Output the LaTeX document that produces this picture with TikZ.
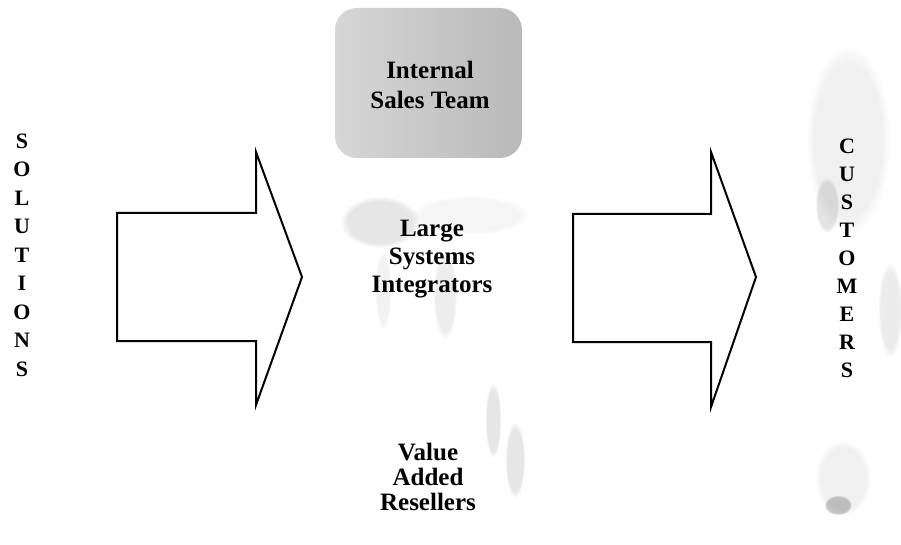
\documentclass[tikz,border=0pt]{standalone}
\usepackage{fontspec}
\setmainfont{Liberation Serif}
\usetikzlibrary{fadings}
\tikzset{
  blockarrow/.style={draw=black,line width=2pt,line join=miter,fill=white},
  letter/.style={font=\fontsize{22}{22}\selectfont\bfseries,inner sep=0pt},
  channel/.style={align=center,inner sep=0pt,font=\fontsize{25}{#1}\selectfont\bfseries},
  haze/.style={fill=gray,opacity=#1,path fading=circle with fuzzy edge 20 percent},
}
\begin{document}
\begin{tikzpicture}[x=1pt,y=-1pt]
\useasboundingbox (0,0) rectangle (901,545);
% speckled backgrounds
\shade[rounded corners=22pt,left color=gray!32,middle color=gray!52,right color=gray!55]
  (335,8) rectangle (522,158);
\fill[haze=.2] (380,222) ellipse (40 and 26);
\fill[haze=.08] (470,215) ellipse (60 and 20);
\fill[haze=.1] (383,290) ellipse (8 and 40);
\fill[haze=.14] (445,295) ellipse (12 and 45);
\fill[haze=.2] (493,420) ellipse (8 and 38);
\fill[haze=.2] (515,460) ellipse (10 and 38);
\fill[haze=.12] (848,140) ellipse (42 and 95);
\fill[haze=.22] (827,205) ellipse (12 and 28);
\fill[haze=.15] (890,310) ellipse (12 and 48);
\fill[haze=.12] (843,478) ellipse (28 and 38);
\fill[haze=.45] (838,505) ellipse (14 and 10);
% block arrows
\draw[blockarrow] (117,213)--(256,213)--(256,152)--(302,277)--(256,405)--(256,341)--(117,341)--cycle;
\draw[blockarrow] (573,214)--(711,214)--(711,152)--(756,277)--(711,407)--(711,342)--(573,342)--cycle;
% vertical words
\foreach \l [count=\i] in {S,O,L,U,T,I,O,N,S}
  \node[letter] (sol\i) at (22,{141+28.5*(\i-1)}) {\l};
\foreach \l [count=\i] in {C,U,S,T,O,M,E,R,S}
  \node[letter] (cus\i) at (847,{146+28.1*(\i-1)}) {\l};
% channels
\node[channel=30] (sales) at (430,85) {Internal\\Sales Team};
\node[channel=28] (integrators) at (432,259) {Large\\Systems\\Integrators};
\node[channel=25] (resellers) at (428,477) {Value\\Added\\Resellers};
\end{tikzpicture}
\end{document}
